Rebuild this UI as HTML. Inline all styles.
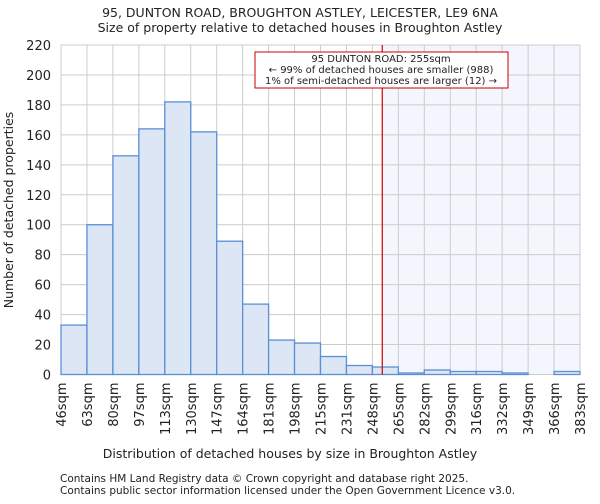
<!DOCTYPE html>
<html><head><meta charset="utf-8"><style>
body{margin:0;background:#fff;font-family:"DejaVu Sans","Liberation Sans",sans-serif;}
svg text{font-family:"DejaVu Sans","Liberation Sans",sans-serif;fill:#222;}
</style></head><body>
<svg id="chart" width="600" height="500">
<text x="300" y="17" text-anchor="middle" font-size="12.5">95, DUNTON ROAD, BROUGHTON ASTLEY, LEICESTER, LE9 6NA</text>
<text x="300" y="32" text-anchor="middle" font-size="12.5">Size of property relative to detached houses in Broughton Astley</text>
<g id="plot"></g>
<text x="290" y="458" text-anchor="middle" font-size="12.5">Distribution of detached houses by size in Broughton Astley</text>
<text transform="translate(13,210) rotate(-90)" text-anchor="middle" font-size="12.5">Number of detached properties</text>
<text x="60" y="482" font-size="10.5">Contains HM Land Registry data © Crown copyright and database right 2025.</text>
<text x="60" y="494" font-size="10.5">Contains public sector information licensed under the Open Government Licence v3.0.</text>
</svg>
<script>
const categories=["46sqm","63sqm","80sqm","97sqm","113sqm","130sqm","147sqm","164sqm","181sqm","198sqm","215sqm","231sqm","248sqm","265sqm","282sqm","299sqm","316sqm","332sqm","349sqm","366sqm","383sqm"];
const counts=[33,100,146,164,182,162,89,47,23,21,12,6,5,1,3,2,2,1,0,2];
const yTicks=[0,20,40,60,80,100,120,140,160,180,200,220];
const markerBin=12.38;
const NS="http://www.w3.org/2000/svg";
const L=61,R=580,T=45,B=374.5,YMAX=220;
const nb=counts.length,bw=(R-L)/nb;
const xs=i=>L+i*bw;
const ys=v=>B-(v/YMAX)*(B-T);
const g=document.getElementById('plot');
function mk(t,a){const e=document.createElementNS(NS,t);for(const k in a)e.setAttribute(k,a[k]);g.appendChild(e);return e;}
const mx=xs(markerBin);
let e=mk('rect',{x:mx,y:T,width:R-mx,height:B-T,fill:'#f3f6fd'});


yTicks.forEach(v=>{
 let l=mk('line',{x1:L,x2:R,y1:ys(v),y2:ys(v),stroke:'#cccccc','stroke-width':1});
 
 
 let t=mk('text',{x:L-10,y:ys(v)+5,'text-anchor':'end','font-size':'13'});
 t.textContent=v;
 
 
});
categories.forEach((c,i)=>{
 let l=mk('line',{x1:xs(i),x2:xs(i),y1:T,y2:B,stroke:'#cccccc','stroke-width':1});
 
 
 let t=mk('text',{transform:`translate(${xs(i)+5},${B+8}) rotate(-90)`,'text-anchor':'end','font-size':'13'});
 t.textContent=c;
 
 
});
counts.forEach((v,i)=>{
 if(v<=0)return;
 let r=mk('rect',{x:xs(i),y:ys(v),width:bw,height:B-ys(v),fill:'#dde6f4',stroke:'#5b8fd6','stroke-width':1.3});
 
 
});
let ml=mk('line',{x1:mx,x2:mx,y1:T,y2:B,stroke:'#cc0000','stroke-width':1.2});


let box=mk('rect',{x:255,y:52,width:253,height:36,fill:'#fff',stroke:'#cc0000','stroke-width':1});


["95 DUNTON ROAD: 255sqm","← 99% of detached houses are smaller (988)","1% of semi-detached houses are larger (12) →"].forEach((s,k)=>{
 let t=mk('text',{x:381,y:62+k*11,'text-anchor':'middle','font-size':'10'});
 t.textContent=s;
 
 
});
</script>
</body></html>
